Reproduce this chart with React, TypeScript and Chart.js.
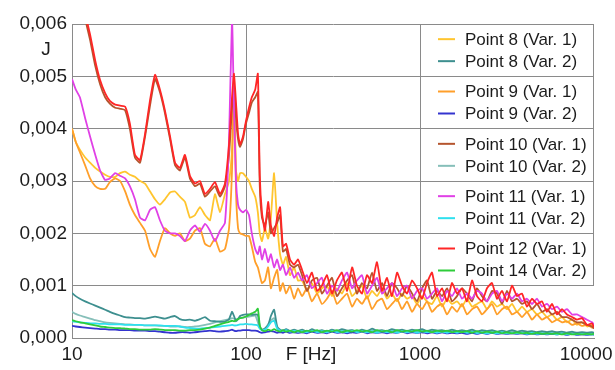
import React, { useEffect, useRef } from 'react';
import { Chart, registerables } from 'chart.js';

Chart.register(...registerables);

// Frequencies (Hz) shared by every series
const FREQ_HZ = [
  10, 10.5, 11.1, 11.9, 12.7, 13.6, 14.5, 15.5, 16.5, 17.7,
  18.9, 20.2, 21.5, 23.0, 24.6, 26.3, 28.1, 30.0, 32.0, 34.2,
  36.6, 39.1, 41.7, 44.6, 47.6, 50.9, 54.4, 58.1, 62.1, 66.3,
  70.9, 75.7, 79.9, 83.1, 85.3, 87.6, 90.0, 92.4, 96.1, 100,
  104, 108, 113, 117, 120, 123.5, 128.5, 134, 139, 145,
  151, 157, 163, 170, 179, 189, 199, 210, 224, 239,
  256, 273, 292, 312, 333, 356, 381, 407, 434, 464,
  496, 530, 566, 605, 646, 690, 738, 788, 842, 900,
  961, 1027, 1097, 1172, 1252, 1338, 1430, 1527, 1632, 1743,
  1862, 1990, 2126, 2271, 2427, 2593, 2770, 2959, 3162, 3379,
  3610, 3857, 4120, 4402, 4703, 5025, 5369, 5736, 6128, 6547,
  6995, 7473, 7985, 8531, 9114, 9739, 10000,
];

// Series values are written in units of 1e-4 J
const UNIT = 1e-4;

const P8_VAR1 = [
  40, 37.5, 36, 34.5, 33.5, 32.5, 31.8, 31.2, 30.8, 30.8,
  31.5, 31.8, 31.2, 30.8, 30, 29.5, 28, 26.5, 25.5, 26.5,
  27.8, 28, 27, 26, 23, 23.5, 25, 23.5, 22.5, 27.5,
  24, 27.5, 30, 36, 48, 32, 30, 31.5, 31.5, 30.8,
  30, 28.5, 27, 24, 20, 18.5, 21, 19, 23, 31.5,
  22, 16, 14, 15.5, 12, 13.5, 11, 11, 9, 10.5,
  8.5, 9.5, 10, 8, 9.5, 8.5, 10.5, 8, 9, 10,
  7.5, 9, 8, 9.5, 7.5, 8.5, 7, 8.5, 7.5, 8,
  6.5, 8, 7, 6.5, 8, 6, 7.5, 6.5, 7, 6,
  7.5, 6, 6.5, 7, 5.5, 7, 6, 6.5, 5.5, 6.5,
  5, 6, 5, 5.5, 4.5, 5, 4, 4.5, 3.5, 4,
  3, 3.5, 2.5, 3, 2.2, 2.5, 2,
];

const P8_VAR2 = [
  8.6, 8, 7.5, 7, 6.6, 6.2, 5.8, 5.4, 5, 4.6,
  4.3, 4.0, 3.9, 3.8, 3.8, 3.7, 3.9, 4.1, 3.9, 3.7,
  4.0, 4.2, 3.6, 3.4, 3.5, 3.3, 3.6, 4.0, 3.3, 3.2,
  3.1, 3.1, 3.6, 5.0, 4.2, 3.2, 3.6, 4.2, 4.4, 4.5,
  4.5, 4.4, 4.5, 4.4, 2.2, 1.6, 1.8, 2.4, 4.2, 5.4,
  2.2, 1.6, 1.4, 1.7, 1.3, 1.6, 1.3, 1.6, 1.2, 1.7,
  1.3, 1.5, 1.2, 1.6, 1.3, 1.7, 1.4, 1.5, 1.2, 1.6,
  1.3, 1.8, 1.4, 1.5, 1.3, 1.7, 1.4, 1.6, 1.3, 1.6,
  1.4, 1.7, 1.3, 1.6, 1.4, 1.5, 1.3, 1.6, 1.3, 1.5,
  1.3, 1.6, 1.2, 1.5, 1.3, 1.5, 1.2, 1.4, 1.2, 1.5,
  1.2, 1.4, 1.2, 1.3, 1.1, 1.3, 1.1, 1.3, 1.1, 1.2,
  1.0, 1.2, 1.0, 1.1, 1.0, 1.1, 1.0,
];

const P9_VAR1 = [
  40, 37.5, 35.5, 33, 30.5, 29, 28.5, 28.5, 29.8, 30.5,
  30, 28, 25.5, 23.5, 22, 20.5, 17, 15.5, 18.5, 21,
  20, 19.5, 20, 18.5, 19, 20.5, 21, 18, 17.5, 19,
  16.5, 17, 21, 32, 49, 28, 21, 20, 19.8, 19.5,
  19.5, 17.5, 14.5, 13.5, 12, 10.5, 11, 13.5, 9.5, 11.5,
  13, 9, 10.5, 8.5, 10, 7.5, 9.5, 8, 9.5, 7,
  8.5, 6.5, 7.5, 9, 6.5, 7.5, 8.5, 6, 7.5, 6.5,
  8, 5.5, 7, 7.5, 5.5, 6.5, 7.5, 5.5, 7, 5,
  6.5, 5.5, 7, 5, 6, 6.5, 4.5, 6, 5, 6.5,
  4.5, 5.5, 6, 4.5, 5.5, 6.5, 4.5, 5.5, 6, 4.5,
  5, 4, 5, 3.5, 4.5, 3.5, 4, 3, 3.5, 3,
  3.2, 2.5, 2.8, 2.3, 2.5, 2, 2,
];

const P9_VAR2 = [
  2.3, 2.2, 2.1, 2.0, 1.9, 1.8, 1.7, 1.7, 1.6, 1.6,
  1.5, 1.5, 1.5, 1.4, 1.4, 1.4, 1.3, 1.3, 1.2, 1.1,
  1.0, 1.0, 1.1, 1.1, 1.0, 1.1, 1.2, 1.3, 1.4, 1.3,
  1.2, 1.3, 1.4, 1.6, 1.4, 1.3, 1.4, 1.4, 1.5, 1.5,
  1.5, 1.4, 1.4, 1.3, 1.1, 1.0, 1.1, 1.2, 1.3, 1.2,
  1.0, 1.1, 1.0, 1.2, 1.0, 1.1, 1.0, 1.1, 0.9, 1.2,
  1.0, 1.1, 0.9, 1.2, 1.0, 1.1, 0.9, 1.1, 1.0, 1.2,
  0.9, 1.1, 1.0, 1.1, 0.9, 1.1, 1.0, 1.2, 0.9, 1.1,
  1.0, 1.1, 0.9, 1.1, 0.9, 1.1, 0.9, 1.0, 0.9, 1.0,
  0.8, 1.0, 0.8, 1.0, 0.8, 1.0, 0.8, 0.9, 0.8, 0.9,
  0.8, 0.9, 0.7, 0.9, 0.7, 0.8, 0.7, 0.8, 0.7, 0.8,
  0.6, 0.8, 0.6, 0.7, 0.6, 0.7, 0.6,
];

const P10_VAR1 = [
  75, 71, 66, 61, 57, 52, 48.5, 46, 44.8, 44,
  43.8, 43.5, 40, 34.5, 33.5, 38.5, 44.5, 49.5, 47, 43,
  38, 33, 32, 34.5, 30.5, 29, 29.5, 27, 28, 29,
  27, 29, 35, 44, 48, 42, 38, 36.5, 38, 41,
  43, 45, 46, 47, 29, 23, 21.5, 24, 20, 21,
  22, 23.5, 16.5, 17, 14, 13.5, 14, 12, 9, 11,
  11.5, 8.5, 10, 11.5, 8, 9.5, 11, 12, 8.5, 10.5,
  9.5, 12.5, 9, 10.5, 8, 10.5, 9.5, 8, 10, 8.5,
  7, 9.5, 11, 7.5, 9, 8, 9.5, 7, 8, 9.5,
  8.5, 7, 9.5, 8, 7, 9, 8.5, 6.5, 9, 7,
  7.5, 6.5, 7, 5.5, 6.5, 5, 5.5, 4.5, 5, 4,
  4, 3.5, 3, 3, 2.5, 2.2, 1.8,
];

const P10_VAR2 = [
  5.0, 4.6, 4.3, 4.0, 3.7, 3.4, 3.2, 3.0, 2.9, 2.8,
  2.7, 2.6, 2.6, 2.5, 2.5, 2.4, 2.4, 2.4, 2.3, 2.3,
  2.2, 2.2, 2.2, 2.1, 2.1, 2.2, 2.3, 2.5, 2.7, 3.0,
  3.2, 3.4, 3.6, 3.8, 3.7, 3.6, 3.7, 3.8, 3.9, 4.0,
  4.1, 4.2, 4.3, 3.0, 2.0, 1.6, 1.8, 2.6, 3.4, 3.8,
  2.0, 1.5, 1.4, 1.6, 1.3, 1.5, 1.2, 1.4, 1.2, 1.5,
  1.2, 1.4, 1.1, 1.5, 1.2, 1.4, 1.2, 1.5, 1.2, 1.4,
  1.1, 1.5, 1.2, 1.4, 1.2, 1.5, 1.2, 1.4, 1.1, 1.4,
  1.2, 1.5, 1.2, 1.4, 1.2, 1.4, 1.1, 1.4, 1.2, 1.3,
  1.1, 1.4, 1.1, 1.3, 1.1, 1.3, 1.1, 1.3, 1.0, 1.3,
  1.0, 1.2, 1.0, 1.2, 1.0, 1.1, 0.9, 1.1, 0.9, 1.0,
  0.9, 1.0, 0.8, 0.9, 0.8, 0.9, 0.8,
];

const P11_VAR1 = [
  49.5, 47.5, 46, 42, 38.5, 35, 32, 30.2, 30.5, 31.5,
  31, 30.5, 29, 26.5, 23, 22.5, 24.5, 25, 22.5, 20.5,
  20, 20, 19.5, 18.5, 20.5, 21.5, 20.3, 21.8, 20.5, 18.5,
  20.5, 22, 38, 61, 44, 30, 25.5, 24.5, 24, 24.5,
  23.5, 20, 17, 16, 17.5, 15, 17, 14.5, 16, 13.5,
  15, 13, 14, 12, 13.5, 11.5, 12.5, 11, 12, 9.5,
  10.5, 11.5, 8.5, 10, 9, 11, 12.5, 9.5, 11, 12,
  8.5, 10, 11.5, 8.5, 9.5, 10.5, 8, 9.5, 10, 7.5,
  9, 9.5, 7.5, 8.5, 9.5, 7, 9, 8, 9.5, 7.5,
  8.5, 7.5, 9, 8.5, 7, 8.5, 9, 7, 8.5, 7.5,
  8.5, 7, 7.5, 6.5, 7.5, 6, 6.5, 5.5, 6, 5,
  5.5, 4.5, 4.5, 4, 3.5, 3, 2.5,
];

const P11_VAR2 = [
  3.2, 3.1, 3.0, 2.9, 2.8, 2.8, 2.7, 2.7, 2.6, 2.6,
  2.6, 2.5, 2.5, 2.5, 2.5, 2.4, 2.4, 2.4, 2.4, 2.3,
  2.3, 2.3, 2.2, 2.0, 1.9, 1.8, 1.8, 1.9, 2.0, 2.1,
  2.2, 2.3, 2.4, 2.5, 2.4, 2.4, 2.5, 2.6, 2.6, 2.7,
  2.6, 2.6, 2.5, 2.4, 1.8, 1.5, 1.6, 2.2, 3.0, 3.3,
  1.8, 1.4, 1.3, 1.5, 1.2, 1.4, 1.2, 1.3, 1.1, 1.4,
  1.1, 1.3, 1.1, 1.4, 1.1, 1.3, 1.1, 1.4, 1.1, 1.3,
  1.1, 1.3, 1.0, 1.3, 1.1, 1.3, 1.0, 1.3, 1.1, 1.3,
  1.0, 1.3, 1.1, 1.2, 1.0, 1.2, 1.0, 1.2, 1.0, 1.2,
  1.0, 1.2, 0.9, 1.1, 0.9, 1.1, 0.9, 1.1, 0.9, 1.0,
  0.9, 1.0, 0.8, 1.0, 0.8, 0.9, 0.8, 0.9, 0.7, 0.9,
  0.7, 0.8, 0.7, 0.8, 0.7, 0.7, 0.7,
];

const P12_VAR1 = [
  76, 72, 67, 62, 58, 53, 49.3, 46.8, 45.3, 44.6,
  44.4, 44.2, 41, 35, 34, 39, 45.5, 50.3, 47.5, 43.5,
  38.5, 33.5, 32.5, 35, 31, 29.5, 30, 27.5, 28.5, 29.8,
  27.5, 29.5, 37, 46, 50.5, 45, 39, 37, 38.5, 41.5,
  44, 46, 47.5, 50.5, 31, 24, 20.5, 26, 21.5, 19.5,
  23, 25, 17.5, 18, 15, 14, 15, 13, 10.5, 12.5,
  9, 10, 12, 8.5, 11, 12.5, 9, 13.5, 10, 8.5,
  12, 10.5, 14.5, 9, 11.5, 8, 12.5, 10, 8.5, 11,
  9.5, 7.5, 10.5, 12.5, 8, 9.5, 7, 10.5, 8.5, 9.5,
  7, 11, 8, 7, 9.5, 10.5, 7.5, 9, 7, 10,
  8, 8.5, 6, 7.5, 6.5, 7, 5, 6.5, 4.5, 5.5,
  4.5, 4, 3.5, 3.8, 2.5, 2.8, 2,
];

const P14_VAR2 = [
  3.4, 3.2, 3.0, 2.8, 2.6, 2.4, 2.2, 2.1, 2.0, 1.9,
  1.9, 1.8, 1.7, 1.7, 1.6, 1.6, 1.6, 1.7, 1.6, 1.5,
  1.5, 1.5, 1.4, 1.4, 1.5, 1.5, 1.6, 1.8, 2.0, 2.3,
  2.6, 2.9, 3.1, 3.3, 3.2, 3.4, 3.6, 3.8, 3.9, 4.1,
  4.4, 4.7, 5.0, 5.6, 2.4, 1.5, 1.3, 1.6, 1.4, 1.7,
  1.4, 1.2, 1.5, 1.2, 1.4, 1.1, 1.4, 1.1, 1.4, 1.2,
  1.5, 1.1, 1.4, 1.2, 1.5, 1.1, 1.4, 1.2, 1.5, 1.2,
  1.4, 1.1, 1.5, 1.2, 1.4, 1.1, 1.5, 1.2, 1.4, 1.2,
  1.5, 1.2, 1.4, 1.1, 1.4, 1.2, 1.4, 1.1, 1.3, 1.1,
  1.3, 1.0, 1.3, 1.0, 1.2, 1.0, 1.2, 0.9, 1.1, 0.9,
  1.1, 0.9, 1.0, 0.8, 1.0, 0.8, 0.9, 0.8, 0.9, 0.7,
  0.9, 0.7, 0.8, 0.7, 0.8, 0.7, 0.8,
];

const SERIES_LABELS = [
  'Point 8 (Var. 1)', 'Point 8 (Var. 2)',
  'Point 9 (Var. 1)', 'Point 9 (Var. 2)',
  'Point 10 (Var. 1)', 'Point 10 (Var. 2)',
  'Point 11 (Var. 1)', 'Point 11 (Var. 2)',
  'Point 12 (Var. 1)', 'Point 14 (Var. 2)',
];
const SERIES_VALUES = [
  P8_VAR1, P8_VAR2, P9_VAR1, P9_VAR2, P10_VAR1,
  P10_VAR2, P11_VAR1, P11_VAR2, P12_VAR1, P14_VAR2,
];

const X_TICK_VALUES = [10, 100, 1000, 10000];
const X_TICK_LABELS = ['10', '100', '1000', '10000'];
const Y_TICK_VALUES = [0, 0.001, 0.002, 0.003, 0.004, 0.005, 0.006];
const Y_TICK_LABELS = ['0,000', '0,001', '0,002', '0,003', '0,004', '0,005', '0,006'];
const X_TITLE = 'F [Hz]';
const Y_TITLE = 'J';

// ---- styles ----
const COLORS = [
  '#FFC52E', '#3D8F8F', '#FF9F2A', '#3434CF', '#B5552E',
  '#86BFB9', '#E040E6', '#2FE0EE', '#FF2626', '#2ECC3A',
];
const DRAW_ORDER = [4, 7, 3, 9, 2, 8, 1, 6, 0, 5];
const GRID = '#8a8a8a';
const TEXT = '#1c1c1c';
const FONT = "'Liberation Sans', Arial, sans-serif";

const overlayPlugin = {
  id: 'overlayText',
  afterDraw(chart: any) {
    const { ctx, chartArea, scales } = chart;
    const xs = scales.x;
    const ys = scales.y;
    ctx.save();
    const legLeft = xs.getPixelForValue(1000);
    const topY = ys.getPixelForValue(0.006);
    const botY = ys.getPixelForValue(0.001);
    ctx.strokeStyle = GRID;
    ctx.lineWidth = 1;
    ctx.beginPath();
    ctx.moveTo(Math.round(chartArea.right) - 0.5, topY);
    ctx.lineTo(Math.round(chartArea.right) - 0.5, botY);
    ctx.stroke();

    ctx.font = `17px ${FONT}`;
    ctx.textBaseline = 'middle';
    ctx.textAlign = 'left';
    for (let i = 0; i < SERIES_LABELS.length; i++) {
      const cell = Math.floor(i / 2);
      const cTop = ys.getPixelForValue(0.006 - cell * 0.001);
      const cBot = ys.getPixelForValue(0.005 - cell * 0.001);
      const cy = (cTop + cBot) / 2 + (i % 2 === 0 ? -11 : 11);
      ctx.strokeStyle = COLORS[i];
      ctx.lineWidth = 2;
      ctx.beginPath();
      ctx.moveTo(legLeft + 18, cy);
      ctx.lineTo(legLeft + 35, cy);
      ctx.stroke();
      ctx.fillStyle = TEXT;
      ctx.fillText(SERIES_LABELS[i], legLeft + 45, cy + 1);
    }

    ctx.font = `19px ${FONT}`;
    ctx.fillStyle = TEXT;
    ctx.textAlign = 'center';
    ctx.fillText(Y_TITLE, 46, 50);
    ctx.fillText(X_TITLE, 311, 355);
    ctx.restore();
  },
};

export default function App() {
  const ref = useRef<HTMLCanvasElement>(null);

  useEffect(() => {
    document.body.style.margin = '0';
    const datasets = SERIES_VALUES.map((vals, i) => ({
      label: SERIES_LABELS[i],
      data: FREQ_HZ.map((f, j) => ({ x: f, y: vals[j] * UNIT })),
      borderColor: COLORS[i],
      backgroundColor: COLORS[i],
      borderWidth: 1.8,
      pointRadius: 0,
      fill: false,
      tension: 0.15,
      order: DRAW_ORDER[i],
    }));

    const chart = new Chart(ref.current as HTMLCanvasElement, {
      type: 'line',
      data: { datasets },
      options: {
        animation: false,
        responsive: false,
        events: [],
        layout: { padding: { top: 24, right: 21, left: 0, bottom: 0 } },
        plugins: { legend: { display: false }, tooltip: { enabled: false } },
        scales: {
          x: {
            type: 'logarithmic',
            min: 10,
            max: 10000,
            afterBuildTicks: (s: any) => {
              s.ticks = X_TICK_VALUES.map((v) => ({ value: v }));
            },
            afterFit: (s: any) => {
              s.height = 32;
              s.paddingLeft = 0;
              s.paddingRight = 0;
            },
            ticks: {
              autoSkip: false,
              maxRotation: 0,
              padding: 5,
              color: TEXT,
              font: { family: FONT, size: 19 },
              callback: (_v: any, i: number) =>
                i === X_TICK_LABELS.length - 1
                  ? X_TICK_LABELS[i] + '\u00a0\u00a0\u00a0'
                  : X_TICK_LABELS[i],
            },
            grid: {
              drawTicks: false,
              lineWidth: 1,
              color: (c: any) => (c.tick && c.tick.value === 10000 ? 'rgba(0,0,0,0)' : GRID),
            },
            border: { display: true, color: GRID, width: 1 },
          },
          y: {
            type: 'linear',
            min: 0,
            max: 0.006,
            afterBuildTicks: (s: any) => {
              s.ticks = Y_TICK_VALUES.map((v) => ({ value: v }));
            },
            afterFit: (s: any) => {
              s.width = 72;
              s.paddingTop = 0;
              s.paddingBottom = 0;
            },
            ticks: {
              padding: 5,
              color: TEXT,
              font: { family: FONT, size: 19 },
              callback: (_v: any, i: number) => Y_TICK_LABELS[i],
            },
            grid: { drawTicks: false, lineWidth: 1, color: GRID },
            border: { display: true, color: GRID, width: 1 },
          },
        },
      },
      plugins: [overlayPlugin],
    } as any);

    return () => chart.destroy();
  }, []);

  return (
    <div style={{ width: 615, height: 370 }}>
      <canvas ref={ref} width={615} height={370} style={{ display: 'block', width: 615, height: 370 }} />
    </div>
  );
}
